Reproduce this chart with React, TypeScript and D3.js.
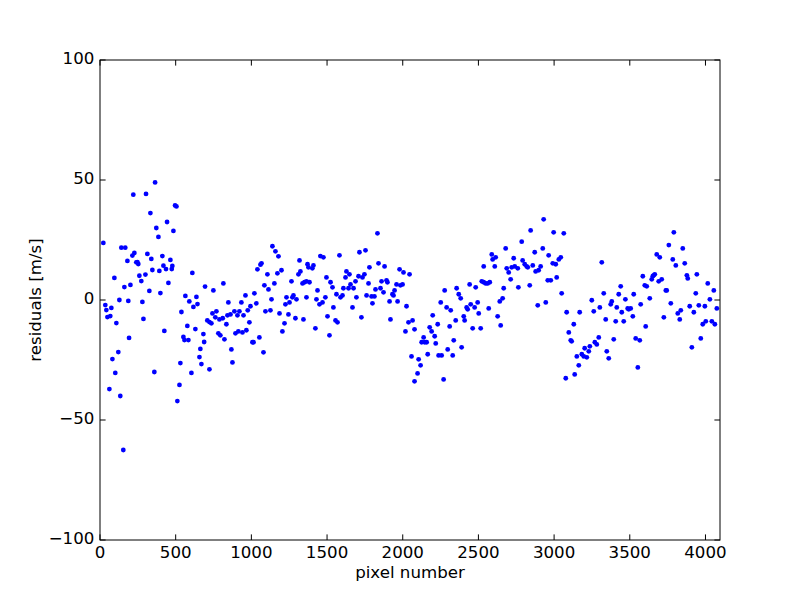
import React from "react";
import * as d3 from "d3";

const pixelNumbers: number[] = [
  22,35,42,49,62,68,75,82,95,101,108,121,128,134,141,154,161,167,181,187,192,201,214,220,227,240,247,253,260,273,280,287,300,304,313,326,333,339,346,359,364,372,386,392,399,412,419,425,436,443,452,465,474,478,485,496,505,511,525,531,538,551,558,564,577,584,590,604,610,617,630,637,644,657,663,670,683,688,694,
  709,723,723,736,743,749,762,769,782,789,795,811,815,822,835,842,848,862,868,875,888,895,908,914,921,934,941,948,961,967,976,987,994,1007,1014,1020,1033,1040,1053,1060,1067,1080,1086,1093,1106,1113,1126,1133,1139,1152,1159,1172,1179,1186,1199,1205,1219,1225,1232,1245,1252,1265,1271,1278,1291,1298,1311,1318,1324,1338,1344,1351,1364,1364,1371,1377,1384,
  1403,1410,1423,1430,1437,1450,1456,1470,1476,1489,1496,1503,1516,1523,1536,1542,1556,1562,1569,1582,1589,1602,1608,1622,1628,1642,1648,1655,1668,1675,1688,1694,1708,1714,1727,1734,1747,1754,1761,1774,1780,1794,1800,1813,1820,1833,1840,1853,1860,1873,1880,1893,1899,1913,1919,1932,1939,1946,1959,1966,1979,1985,1999,2005,2018,2025,2038,2045,2058,2065,2078,2078,
  2098,2105,2118,2125,2138,2145,2158,2165,2178,2191,2198,2211,2218,2231,2237,2251,2257,2270,2277,2290,2297,2310,2317,2330,2337,2350,2356,2370,2383,2389,2403,2409,2422,2429,2442,2449,2462,2475,2482,2495,2502,2515,2522,2535,2535,2548,2561,2568,2575,2588,2594,2608,2614,2627,2641,2647,2660,2667,2680,2687,2700,2713,2720,2733,2740,2760,2764,
  2786,2792,2806,2819,2826,2839,2845,2859,2872,2878,2892,2898,2911,2925,2931,2945,2958,2964,2978,2991,2997,3011,3017,3031,3044,3050,3064,3077,3083,3097,3110,3116,3130,3136,3150,3163,3169,3183,3196,3202,3216,3229,3236,3249,3262,3269,3282,3295,3302,3315,3328,3341,3348,3361,3374,3381,3394,3407,3414,3427,3440,3447,3460,3471,
  3486,3493,3506,3520,3526,3539,3553,3566,3572,3586,3599,3605,3612,3632,3645,3652,3658,3665,3678,3691,3698,3711,3725,3738,3744,3758,3771,3784,3791,3804,3817,3830,3837,3850,3863,3877,3883,3896,3910,3923,3936,3943,3956,3969,3982,3996,4002,4015,4029,4042,4055,4062,4075,
];

const residuals: number[] = [
  23.8,-2.1,-4.2,-7.1,-37.1,-6.7,-3.3,-24.6,9.2,-30.4,-9.6,-21.7,0,-40,21.8,-62.5,5.4,21.8,16.3,-0.4,-15.8,6.3,18.5,43.9,19.6,15.7,15.8,15,10.1,7.9,-0.8,-7.9,10.6,44.2,19.2,3.8,36.2,17.1,12.5,-30,49,30,26.3,12.1,2.9,18.3,14.3,-12.9,12.9,32.5,7.1,16.7,12.9,14.2,28.8,39.4,39,-42.1,-35.4,-26.3,-5,-15.4,-16.7,1.7,-10.8,-16.7,-0.6,-30.4,11.3,-2.9,-12.1,1.3,-1.7,-23.8,-20.4,-26.7,-14.2,-17.5,5.6,
  -8.5,-28.9,-9.2,-9.7,-5.6,4,-7.2,-4.7,-13.9,-8.1,-14.7,-7.6,6.9,-16.4,-10.1,-6.4,-1,-6,-20.6,-26,-4.7,-13.9,-6.4,-13.1,-4.7,-1,-13.5,-6.4,1.9,-12.6,-4.3,-9.3,-2.6,-17.6,-17.6,2.8,-1.4,12.8,-15.6,14.7,15.3,-21.8,6.1,-4.7,10.7,4.4,-4.3,0.3,22.4,6.9,20.3,11.1,18.2,-5.6,12.4,-13.1,-9.7,-1.8,1.1,-6,-1,7.8,1.1,1.9,-7.6,0.3,10.7,16.5,11.9,6.9,-8.1,7.4,7.8,1.1,14.9,13.6,7.4,
  13.2,14.4,-11.8,0.3,4,-1.8,18.3,-1,17.8,1.1,9.4,-6.8,-14.7,7.4,5.3,-3.1,-8.5,2.4,-9.3,18.6,1.1,1.9,4.9,9.4,11.9,4.9,10.7,6.5,-3.1,4.9,7.8,1.1,9.9,19.9,-7.2,9.4,10.7,20.7,1.9,6.9,13.6,1.5,-1.4,1.5,4.4,27.8,15.3,4.9,7.8,3.2,14,8.2,7.4,-0.6,-8.1,2.4,1.9,4,6.5,-0.6,12.8,6.1,6.5,11.5,-13.1,-2.6,-9.3,10.7,-23.5,-8.5,-33.9,-12.2,
  -30.6,-24.7,-27.2,-17.6,-15.6,-17.6,-17.6,-22.6,-11.4,-13.1,-6.4,-15.1,-18.1,-10.1,-23.1,-1,-23.1,-33.1,4,-3.1,-20.6,-11,-4.3,-23.1,-16.8,-8.5,4.9,2.4,0.7,-19.7,-6.8,-8.5,-3.1,-3.9,6.5,-1.8,-11.8,-3.1,5.3,-1,-5.6,-11.8,7.8,7.4,14,6.9,6.9,-3.5,7.4,19,16.9,14,17.8,-6.8,-0.6,-10.6,0.7,4.9,21.5,13.2,11.5,8.6,13.6,17.4,14,13.2,5.3,
  24.3,16.5,14.9,14,13.6,6.1,29,14.4,19.9,11.9,-2.2,12.4,14,21.5,33.6,-1,8.2,18.6,8.2,15.3,28.2,14.9,9.4,16.9,17.8,2.8,27.8,-32.6,-5.1,-13.5,-16.8,-17.2,-10.1,-31,-23.5,-27.2,-5.1,-22.6,-23.5,-20.1,-23.9,-21.4,-19.3,-0.1,-4.7,-17.6,-18.5,-15.6,-3.1,15.7,2.8,-8.1,-21.4,-24.3,-1.8,-0.6,-16.4,-8.9,-3.1,2.4,5.7,-5.1,-8.9,0.3,
  -3.5,-3.9,-3.5,-6.8,2.4,-16,-28.1,-16.8,-1.8,9.9,6.1,-11,5.7,0.7,8.6,9.9,10.3,10.7,19,7.8,17.8,8.6,-7.2,4,4,22.9,-1.4,16.9,28.2,14.4,-5.6,-8.1,-4.3,21.5,15.3,10.3,9,-2.6,-19.7,-5.1,2.8,10.7,-2.2,-16,-10.1,-2.6,-8.9,6.9,0.3,-8.9,4,-10.1,-3.5,
];

const xTicks: number[] = [0, 500, 1000, 1500, 2000, 2500, 3000, 3500, 4000];
const yTicks: number[] = [-100, -50, 0, 50, 100];
const xLabel = "pixel number";
const yLabel = "residuals [m/s]";

export default function App() {
  const W = 800, H = 600;
  const left = 100, right = 720, top = 60, bottom = 540;
  const x = d3.scaleLinear().domain([0, 4096]).range([left, right]);
  const y = d3.scaleLinear().domain([-100, 100]).range([bottom, top]);
  const tl = 5.6;
  const fs = 16.67;
  const font = "'DejaVu Sans', sans-serif";
  const fmt = (v: number) => (v < 0 ? "\u2212" + Math.abs(v) : String(v));
  const pts = pixelNumbers.map((p, i) => [p, residuals[i]] as [number, number]);
  return (
    <svg width={W} height={H} style={{ position: "absolute", left: 0, top: 0, background: "#fff" }} fontFamily={font}>
      <rect x={0} y={0} width={W} height={H} fill="#fff" />
      <g>
        {pts.map((d, i) => (
          <circle key={i} cx={x(d[0])} cy={y(d[1])} r={2.4} fill="#0000ff" />
        ))}
      </g>
      <rect x={left} y={top} width={right - left} height={bottom - top} fill="none" stroke="#000" strokeWidth={1} />
      {xTicks.map((t) => (
        <g key={"x" + t}>
          <line x1={x(t)} x2={x(t)} y1={bottom} y2={bottom - tl} stroke="#000" />
          <line x1={x(t)} x2={x(t)} y1={top} y2={top + tl} stroke="#000" />
          <text x={x(t)} y={558.3} textAnchor="middle" fontSize={fs} fill="#000">{fmt(t)}</text>
        </g>
      ))}
      {yTicks.map((t) => (
        <g key={"y" + t}>
          <line x1={left} x2={left + tl} y1={y(t)} y2={y(t)} stroke="#000" />
          <line x1={right} x2={right - tl} y1={y(t)} y2={y(t)} stroke="#000" />
          <text x={94.4} y={y(t) + 4.3} textAnchor="end" fontSize={fs} fill="#000">{fmt(t)}</text>
        </g>
      ))}
      <text x={(left + right) / 2} y={578} textAnchor="middle" fontSize={fs} fill="#000">{xLabel}</text>
      <text transform={`translate(40.7,${(top + bottom) / 2}) rotate(-90)`} textAnchor="middle" fontSize={fs} fill="#000">{yLabel}</text>
    </svg>
  );
}
